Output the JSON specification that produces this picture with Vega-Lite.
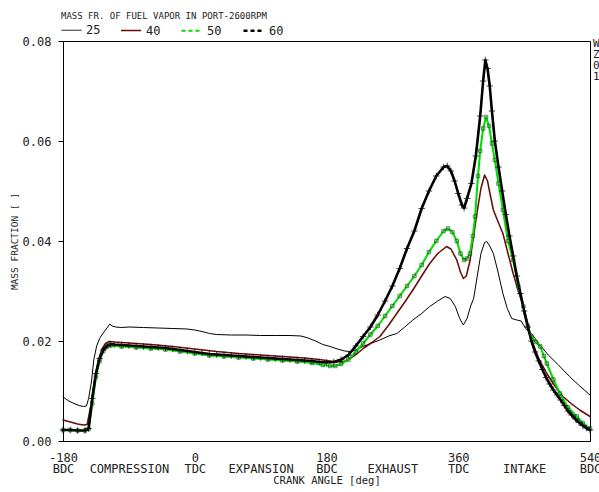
{
  "$schema": "https://vega.github.io/schema/vega-lite/v6.json",
  "width": 527,
  "height": 400,
  "autosize": "none",
  "padding": {"left": 63, "top": 41, "right": 9, "bottom": 51},
  "background": "white",
  "config": {
    "view": {"stroke": "#000", "strokeWidth": 1},
    "font": "DejaVu Sans Mono",
    "axis": {"domainColor": "#000", "labelColor": "#222", "titleColor": "#222", "grid": false, "titleFontWeight": "normal", "labelFont": "DejaVu Sans Mono", "titleFont": "DejaVu Sans Mono"}
  },
  "datasets": {
    "dividers": [{"a": 0}, {"a": 180}, {"a": 360}],
    "minorTicks": [
      {"a": -170}, {"a": -160}, {"a": -150}, {"a": -140}, {"a": -130}, {"a": -120}, {"a": -110}, {"a": -100}, {"a": -90}, {"a": -80}, {"a": -70}, {"a": -60}, {"a": -50}, {"a": -40}, {"a": -30}, {"a": -20}, {"a": -10},
      {"a": 10}, {"a": 20}, {"a": 30}, {"a": 40}, {"a": 50}, {"a": 60}, {"a": 70}, {"a": 80}, {"a": 90}, {"a": 100}, {"a": 110}, {"a": 120}, {"a": 130}, {"a": 140}, {"a": 150}, {"a": 160}, {"a": 170},
      {"a": 190}, {"a": 200}, {"a": 210}, {"a": 220}, {"a": 230}, {"a": 240}, {"a": 250}, {"a": 260}, {"a": 270}, {"a": 280}, {"a": 290}, {"a": 300}, {"a": 310}, {"a": 320}, {"a": 330}, {"a": 340}, {"a": 350},
      {"a": 370}, {"a": 380}, {"a": 390}, {"a": 400}, {"a": 410}, {"a": 420}, {"a": 430}, {"a": 440}, {"a": 450}, {"a": 460}, {"a": 470}, {"a": 480}, {"a": 490}, {"a": 500}, {"a": 510}, {"a": 520}, {"a": 530}
    ],
    "edge": [
      {"a": 544, "v": 0.0794, "t": "W"},
      {"a": 544, "v": 0.0772, "t": "Z"},
      {"a": 544, "v": 0.0750, "t": "0"},
      {"a": 544, "v": 0.0728, "t": "1"}
    ],
    "curves": [
      {"s": "25", "a": -180, "v": 0.0088}, {"s": "25", "a": -172, "v": 0.0080}, {"s": "25", "a": -165, "v": 0.0075}, {"s": "25", "a": -158, "v": 0.0071}, {"s": "25", "a": -152, "v": 0.0069}, {"s": "25", "a": -148, "v": 0.0070}, {"s": "25", "a": -145, "v": 0.0085}, {"s": "25", "a": -141, "v": 0.0120}, {"s": "25", "a": -138, "v": 0.0162}, {"s": "25", "a": -134, "v": 0.0190}, {"s": "25", "a": -130, "v": 0.0205}, {"s": "25", "a": -127, "v": 0.0212}, {"s": "25", "a": -122, "v": 0.0222}, {"s": "25", "a": -118, "v": 0.0230}, {"s": "25", "a": -116, "v": 0.0234}, {"s": "25", "a": -113, "v": 0.0230}, {"s": "25", "a": -108, "v": 0.0228}, {"s": "25", "a": -100, "v": 0.0227}, {"s": "25", "a": -90, "v": 0.0228}, {"s": "25", "a": -70, "v": 0.0227}, {"s": "25", "a": -50, "v": 0.0226}, {"s": "25", "a": -30, "v": 0.0225}, {"s": "25", "a": -10, "v": 0.0224}, {"s": "25", "a": 0, "v": 0.0222}, {"s": "25", "a": 10, "v": 0.0219}, {"s": "25", "a": 20, "v": 0.0215}, {"s": "25", "a": 30, "v": 0.0213}, {"s": "25", "a": 50, "v": 0.0212}, {"s": "25", "a": 70, "v": 0.0212}, {"s": "25", "a": 90, "v": 0.0211}, {"s": "25", "a": 110, "v": 0.0211}, {"s": "25", "a": 130, "v": 0.0211}, {"s": "25", "a": 145, "v": 0.0210}, {"s": "25", "a": 155, "v": 0.0206}, {"s": "25", "a": 165, "v": 0.0200}, {"s": "25", "a": 175, "v": 0.0193}, {"s": "25", "a": 185, "v": 0.0189}, {"s": "25", "a": 195, "v": 0.0184}, {"s": "25", "a": 205, "v": 0.0180}, {"s": "25", "a": 212, "v": 0.0179}, {"s": "25", "a": 220, "v": 0.0182}, {"s": "25", "a": 230, "v": 0.0189}, {"s": "25", "a": 242, "v": 0.0196}, {"s": "25", "a": 253, "v": 0.0202}, {"s": "25", "a": 265, "v": 0.0210}, {"s": "25", "a": 276, "v": 0.0215}, {"s": "25", "a": 287, "v": 0.0228}, {"s": "25", "a": 298, "v": 0.0242}, {"s": "25", "a": 310, "v": 0.0255}, {"s": "25", "a": 321, "v": 0.0269}, {"s": "25", "a": 332, "v": 0.0280}, {"s": "25", "a": 342, "v": 0.0289}, {"s": "25", "a": 349, "v": 0.0285}, {"s": "25", "a": 356, "v": 0.0269}, {"s": "25", "a": 362, "v": 0.0245}, {"s": "25", "a": 367, "v": 0.0232}, {"s": "25", "a": 372, "v": 0.0245}, {"s": "25", "a": 377, "v": 0.0270}, {"s": "25", "a": 381, "v": 0.0285}, {"s": "25", "a": 386, "v": 0.0330}, {"s": "25", "a": 391, "v": 0.0375}, {"s": "25", "a": 396, "v": 0.0397}, {"s": "25", "a": 399, "v": 0.0399}, {"s": "25", "a": 403, "v": 0.0390}, {"s": "25", "a": 408, "v": 0.0375}, {"s": "25", "a": 414, "v": 0.0340}, {"s": "25", "a": 421, "v": 0.0295}, {"s": "25", "a": 427, "v": 0.0265}, {"s": "25", "a": 433, "v": 0.0245}, {"s": "25", "a": 440, "v": 0.0242}, {"s": "25", "a": 446, "v": 0.0240}, {"s": "25", "a": 452, "v": 0.0225}, {"s": "25", "a": 460, "v": 0.0215}, {"s": "25", "a": 470, "v": 0.0195}, {"s": "25", "a": 483, "v": 0.0172}, {"s": "25", "a": 497, "v": 0.0152}, {"s": "25", "a": 512, "v": 0.0129}, {"s": "25", "a": 526, "v": 0.0110}, {"s": "25", "a": 540, "v": 0.0092},

      {"s": "40", "a": -180, "v": 0.0042}, {"s": "40", "a": -170, "v": 0.0038}, {"s": "40", "a": -160, "v": 0.0034}, {"s": "40", "a": -152, "v": 0.0032}, {"s": "40", "a": -147, "v": 0.0033}, {"s": "40", "a": -142, "v": 0.0070}, {"s": "40", "a": -137, "v": 0.0120}, {"s": "40", "a": -132, "v": 0.0160}, {"s": "40", "a": -127, "v": 0.0183}, {"s": "40", "a": -122, "v": 0.0195}, {"s": "40", "a": -117, "v": 0.0199}, {"s": "40", "a": -110, "v": 0.0198}, {"s": "40", "a": -90, "v": 0.0196}, {"s": "40", "a": -60, "v": 0.0193}, {"s": "40", "a": -30, "v": 0.0189}, {"s": "40", "a": 0, "v": 0.0184}, {"s": "40", "a": 30, "v": 0.0179}, {"s": "40", "a": 60, "v": 0.0175}, {"s": "40", "a": 90, "v": 0.0172}, {"s": "40", "a": 120, "v": 0.0169}, {"s": "40", "a": 150, "v": 0.0166}, {"s": "40", "a": 170, "v": 0.0163}, {"s": "40", "a": 185, "v": 0.0160}, {"s": "40", "a": 195, "v": 0.0158}, {"s": "40", "a": 205, "v": 0.0160}, {"s": "40", "a": 212, "v": 0.0165}, {"s": "40", "a": 222, "v": 0.0175}, {"s": "40", "a": 232, "v": 0.0187}, {"s": "40", "a": 243, "v": 0.0198}, {"s": "40", "a": 253, "v": 0.0209}, {"s": "40", "a": 265, "v": 0.0232}, {"s": "40", "a": 276, "v": 0.0255}, {"s": "40", "a": 287, "v": 0.0278}, {"s": "40", "a": 298, "v": 0.0302}, {"s": "40", "a": 310, "v": 0.0330}, {"s": "40", "a": 321, "v": 0.0355}, {"s": "40", "a": 332, "v": 0.0375}, {"s": "40", "a": 344, "v": 0.0389}, {"s": "40", "a": 350, "v": 0.0384}, {"s": "40", "a": 358, "v": 0.0362}, {"s": "40", "a": 363, "v": 0.0338}, {"s": "40", "a": 367, "v": 0.0325}, {"s": "40", "a": 371, "v": 0.0330}, {"s": "40", "a": 376, "v": 0.0360}, {"s": "40", "a": 381, "v": 0.0410}, {"s": "40", "a": 386, "v": 0.0460}, {"s": "40", "a": 391, "v": 0.0505}, {"s": "40", "a": 396, "v": 0.0532}, {"s": "40", "a": 400, "v": 0.0520}, {"s": "40", "a": 404, "v": 0.0490}, {"s": "40", "a": 408, "v": 0.0462}, {"s": "40", "a": 414, "v": 0.0440}, {"s": "40", "a": 421, "v": 0.0415}, {"s": "40", "a": 428, "v": 0.0375}, {"s": "40", "a": 435, "v": 0.0335}, {"s": "40", "a": 442, "v": 0.0300}, {"s": "40", "a": 449, "v": 0.0269}, {"s": "40", "a": 455, "v": 0.0235}, {"s": "40", "a": 460, "v": 0.0202}, {"s": "40", "a": 470, "v": 0.0165}, {"s": "40", "a": 481, "v": 0.0135}, {"s": "40", "a": 492, "v": 0.0110}, {"s": "40", "a": 503, "v": 0.0089}, {"s": "40", "a": 515, "v": 0.0074}, {"s": "40", "a": 526, "v": 0.0062}, {"s": "40", "a": 540, "v": 0.0049},

      {"s": "50", "a": -180, "v": 0.0022}, {"s": "50", "a": -170, "v": 0.0022}, {"s": "50", "a": -160, "v": 0.0021}, {"s": "50", "a": -150, "v": 0.0021}, {"s": "50", "a": -145, "v": 0.0024}, {"s": "50", "a": -140, "v": 0.0075}, {"s": "50", "a": -135, "v": 0.0128}, {"s": "50", "a": -130, "v": 0.0160}, {"s": "50", "a": -125, "v": 0.0180}, {"s": "50", "a": -120, "v": 0.0189}, {"s": "50", "a": -115, "v": 0.0191}, {"s": "50", "a": -100, "v": 0.0189}, {"s": "50", "a": -80, "v": 0.0187}, {"s": "50", "a": -60, "v": 0.0185}, {"s": "50", "a": -40, "v": 0.0183}, {"s": "50", "a": -20, "v": 0.0179}, {"s": "50", "a": 0, "v": 0.0175}, {"s": "50", "a": 20, "v": 0.0171}, {"s": "50", "a": 40, "v": 0.0169}, {"s": "50", "a": 60, "v": 0.0167}, {"s": "50", "a": 80, "v": 0.0165}, {"s": "50", "a": 100, "v": 0.0163}, {"s": "50", "a": 120, "v": 0.0161}, {"s": "50", "a": 140, "v": 0.0159}, {"s": "50", "a": 160, "v": 0.0156}, {"s": "50", "a": 175, "v": 0.0152}, {"s": "50", "a": 185, "v": 0.0150}, {"s": "50", "a": 192, "v": 0.0150}, {"s": "50", "a": 200, "v": 0.0154}, {"s": "50", "a": 210, "v": 0.0163}, {"s": "50", "a": 220, "v": 0.0178}, {"s": "50", "a": 230, "v": 0.0195}, {"s": "50", "a": 240, "v": 0.0213}, {"s": "50", "a": 250, "v": 0.0230}, {"s": "50", "a": 260, "v": 0.0250}, {"s": "50", "a": 270, "v": 0.0270}, {"s": "50", "a": 280, "v": 0.0290}, {"s": "50", "a": 290, "v": 0.0310}, {"s": "50", "a": 300, "v": 0.0330}, {"s": "50", "a": 310, "v": 0.0352}, {"s": "50", "a": 320, "v": 0.0378}, {"s": "50", "a": 330, "v": 0.0400}, {"s": "50", "a": 340, "v": 0.0420}, {"s": "50", "a": 346, "v": 0.0425}, {"s": "50", "a": 352, "v": 0.0418}, {"s": "50", "a": 358, "v": 0.0400}, {"s": "50", "a": 363, "v": 0.0375}, {"s": "50", "a": 368, "v": 0.0362}, {"s": "50", "a": 372, "v": 0.0365}, {"s": "50", "a": 376, "v": 0.0375}, {"s": "50", "a": 380, "v": 0.0410}, {"s": "50", "a": 383, "v": 0.0449}, {"s": "50", "a": 387, "v": 0.0530}, {"s": "50", "a": 390, "v": 0.0580}, {"s": "50", "a": 394, "v": 0.0625}, {"s": "50", "a": 398, "v": 0.0648}, {"s": "50", "a": 402, "v": 0.0630}, {"s": "50", "a": 406, "v": 0.0595}, {"s": "50", "a": 410, "v": 0.0562}, {"s": "50", "a": 415, "v": 0.0515}, {"s": "50", "a": 421, "v": 0.0462}, {"s": "50", "a": 428, "v": 0.0400}, {"s": "50", "a": 435, "v": 0.0362}, {"s": "50", "a": 442, "v": 0.0310}, {"s": "50", "a": 449, "v": 0.0269}, {"s": "50", "a": 455, "v": 0.0230}, {"s": "50", "a": 460, "v": 0.0209}, {"s": "50", "a": 466, "v": 0.0198}, {"s": "50", "a": 472, "v": 0.0189}, {"s": "50", "a": 477, "v": 0.0170}, {"s": "50", "a": 481, "v": 0.0155}, {"s": "50", "a": 490, "v": 0.0123}, {"s": "50", "a": 499, "v": 0.0095}, {"s": "50", "a": 510, "v": 0.0067}, {"s": "50", "a": 522, "v": 0.0049}, {"s": "50", "a": 530, "v": 0.0036}, {"s": "50", "a": 540, "v": 0.0025},

      {"s": "60", "a": -180, "v": 0.0022}, {"s": "60", "a": -170, "v": 0.0022}, {"s": "60", "a": -160, "v": 0.0021}, {"s": "60", "a": -150, "v": 0.0021}, {"s": "60", "a": -145, "v": 0.0025}, {"s": "60", "a": -140, "v": 0.0085}, {"s": "60", "a": -135, "v": 0.0135}, {"s": "60", "a": -130, "v": 0.0165}, {"s": "60", "a": -125, "v": 0.0182}, {"s": "60", "a": -120, "v": 0.0190}, {"s": "60", "a": -115, "v": 0.0194}, {"s": "60", "a": -110, "v": 0.0193}, {"s": "60", "a": -100, "v": 0.0192}, {"s": "60", "a": -90, "v": 0.0191}, {"s": "60", "a": -80, "v": 0.0190}, {"s": "60", "a": -70, "v": 0.0189}, {"s": "60", "a": -60, "v": 0.0188}, {"s": "60", "a": -50, "v": 0.0187}, {"s": "60", "a": -40, "v": 0.0186}, {"s": "60", "a": -30, "v": 0.0184}, {"s": "60", "a": -20, "v": 0.0182}, {"s": "60", "a": -10, "v": 0.0180}, {"s": "60", "a": 0, "v": 0.0178}, {"s": "60", "a": 10, "v": 0.0176}, {"s": "60", "a": 20, "v": 0.0174}, {"s": "60", "a": 30, "v": 0.0173}, {"s": "60", "a": 40, "v": 0.0172}, {"s": "60", "a": 50, "v": 0.0171}, {"s": "60", "a": 60, "v": 0.0170}, {"s": "60", "a": 70, "v": 0.0169}, {"s": "60", "a": 80, "v": 0.0168}, {"s": "60", "a": 90, "v": 0.0167}, {"s": "60", "a": 100, "v": 0.0166}, {"s": "60", "a": 110, "v": 0.0165}, {"s": "60", "a": 120, "v": 0.0164}, {"s": "60", "a": 130, "v": 0.0163}, {"s": "60", "a": 140, "v": 0.0162}, {"s": "60", "a": 150, "v": 0.0161}, {"s": "60", "a": 160, "v": 0.0160}, {"s": "60", "a": 170, "v": 0.0158}, {"s": "60", "a": 180, "v": 0.0157}, {"s": "60", "a": 190, "v": 0.0158}, {"s": "60", "a": 200, "v": 0.0163}, {"s": "60", "a": 210, "v": 0.0172}, {"s": "60", "a": 220, "v": 0.0190}, {"s": "60", "a": 230, "v": 0.0209}, {"s": "60", "a": 240, "v": 0.0228}, {"s": "60", "a": 250, "v": 0.0252}, {"s": "60", "a": 260, "v": 0.0280}, {"s": "60", "a": 270, "v": 0.0310}, {"s": "60", "a": 280, "v": 0.0345}, {"s": "60", "a": 290, "v": 0.0385}, {"s": "60", "a": 300, "v": 0.0420}, {"s": "60", "a": 310, "v": 0.0465}, {"s": "60", "a": 320, "v": 0.0500}, {"s": "60", "a": 330, "v": 0.0530}, {"s": "60", "a": 340, "v": 0.0548}, {"s": "60", "a": 345, "v": 0.0550}, {"s": "60", "a": 350, "v": 0.0540}, {"s": "60", "a": 355, "v": 0.0520}, {"s": "60", "a": 360, "v": 0.0495}, {"s": "60", "a": 365, "v": 0.0472}, {"s": "60", "a": 368, "v": 0.0466}, {"s": "60", "a": 372, "v": 0.0485}, {"s": "60", "a": 378, "v": 0.0515}, {"s": "60", "a": 384, "v": 0.0570}, {"s": "60", "a": 390, "v": 0.0650}, {"s": "60", "a": 394, "v": 0.0720}, {"s": "60", "a": 397, "v": 0.0762}, {"s": "60", "a": 400, "v": 0.0745}, {"s": "60", "a": 403, "v": 0.0710}, {"s": "60", "a": 406, "v": 0.0660}, {"s": "60", "a": 410, "v": 0.0600}, {"s": "60", "a": 415, "v": 0.0548}, {"s": "60", "a": 420, "v": 0.0500}, {"s": "60", "a": 425, "v": 0.0453}, {"s": "60", "a": 430, "v": 0.0410}, {"s": "60", "a": 435, "v": 0.0370}, {"s": "60", "a": 440, "v": 0.0330}, {"s": "60", "a": 445, "v": 0.0295}, {"s": "60", "a": 450, "v": 0.0260}, {"s": "60", "a": 455, "v": 0.0228}, {"s": "60", "a": 460, "v": 0.0200}, {"s": "60", "a": 465, "v": 0.0178}, {"s": "60", "a": 470, "v": 0.0160}, {"s": "60", "a": 475, "v": 0.0143}, {"s": "60", "a": 480, "v": 0.0127}, {"s": "60", "a": 485, "v": 0.0114}, {"s": "60", "a": 490, "v": 0.0102}, {"s": "60", "a": 495, "v": 0.0092}, {"s": "60", "a": 500, "v": 0.0082}, {"s": "60", "a": 505, "v": 0.0071}, {"s": "60", "a": 510, "v": 0.0060}, {"s": "60", "a": 515, "v": 0.0052}, {"s": "60", "a": 520, "v": 0.0044}, {"s": "60", "a": 525, "v": 0.0037}, {"s": "60", "a": 530, "v": 0.0031}, {"s": "60", "a": 535, "v": 0.0026}, {"s": "60", "a": 540, "v": 0.0022}
    ]
  },
  "encoding": {
    "x": {
      "field": "a", "type": "quantitative",
      "scale": {"domain": [-180, 540], "nice": false, "zero": false},
      "axis": {
        "values": [-180, -90, 0, 90, 180, 270, 360, 450, 540],
        "ticks": false,
        "labelPadding": 11,
        "labelFontSize": 12,
        "labelLineHeight": 11,
        "labelBaseline": "top",
        "labelOverlap": false,
        "labelBound": false,
        "labelFlush": false,
        "labelExpr": "datum.value % 180 === 0 ? ['' + datum.value, datum.value % 360 === 0 ? 'TDC' : 'BDC'] : (datum.value === -90 ? [' ', 'COMPRESSION'] : (datum.value === 90 ? [' ', 'EXPANSION'] : (datum.value === 270 ? [' ', 'EXHAUST'] : [' ', 'INTAKE'])))",
        "title": "CRANK ANGLE  [deg]",
        "titleFontSize": 10.5,
        "titlePadding": 1
      }
    },
    "y": {
      "field": "v", "type": "quantitative",
      "scale": {"domain": [0, 0.08], "nice": false},
      "axis": {
        "values": [0, 0.02, 0.04, 0.06, 0.08],
        "format": ".2f",
        "tickSize": 5,
        "tickColor": "#000000",
        "labelPadding": 7,
        "labelFontSize": 12,
        "title": "MASS FRACTION  [ ]",
        "titleFontSize": 9.5,
        "titlePadding": 3
      }
    }
  },
  "layer": [
    {
      "data": {"name": "dividers"},
      "mark": {"type": "rule", "color": "#000", "strokeWidth": 1},
      "encoding": {
        "y": {"datum": 0},
        "y2": {"datum": 0.08}
      }
    },
    {
      "data": {"name": "minorTicks"},
      "mark": {"type": "rule", "color": "#000", "strokeWidth": 1},
      "encoding": {
        "y": {"datum": 0},
        "y2": {"datum": 0.0014}
      }
    },
    {
      "data": {"name": "curves"},
      "mark": {"type": "line", "strokeJoin": "round", "strokeCap": "round"},
      "encoding": {
        "color": {
          "field": "s", "type": "nominal",
          "scale": {"domain": ["25", "40", "50", "60"], "range": ["#000000", "#6b0a0a", "#00dd00", "#000000"]},
          "legend": {
            "title": "MASS FR. OF FUEL VAPOR IN PORT-2600RPM",
            "titleLimit": 400,
            "orient": "none",
            "legendX": -2,
            "legendY": -29,
            "direction": "horizontal",
            "symbolType": "stroke",
            "symbolSize": 400,
            "symbolStrokeWidth": 2,
            "labelFontSize": 12,
            "labelColor": "#222",
            "titleFontSize": 9,
            "titleFontWeight": "normal",
            "titleColor": "#222",
            "titlePadding": -2,
            "columnPadding": 16,
            "symbolOffset": 0,
            "labelOffset": 4,
            "encode": {
              "symbols": {
                "update": {
                  "strokeDash": {"signal": "datum.value === '50' || datum.value === '60' ? [4, 3] : [1, 0]"},
                  "strokeWidth": {"signal": "datum.value === '40' ? 3 : (datum.value === '25' ? 1.2 : 1.5)"}
                }
              }
            }
          }
        },
        "strokeWidth": {
          "field": "s", "type": "nominal",
          "scale": {"domain": ["25", "40", "50", "60"], "range": [1, 2.6, 6, 2.6]},
          "legend": null
        }
      }
    },
    {
      "data": {"name": "curves"},
      "transform": [{"filter": "datum.s === '50'"}],
      "mark": {"type": "point", "shape": "square", "filled": false, "stroke": "#1d4a1d", "strokeWidth": 1, "size": 12}
    },
    {
      "data": {"name": "curves"},
      "transform": [{"filter": "datum.s === '60'"}],
      "mark": {"type": "point", "shape": "M-1,0H1M0,-1V1", "filled": false, "stroke": "#000", "strokeWidth": 1, "size": 42}
    },
    {
      "data": {"name": "edge"},
      "mark": {"type": "text", "align": "left", "baseline": "middle", "fontSize": 11, "color": "#222", "clip": false},
      "encoding": {
        "text": {"field": "t"}
      }
    }
  ]
}
